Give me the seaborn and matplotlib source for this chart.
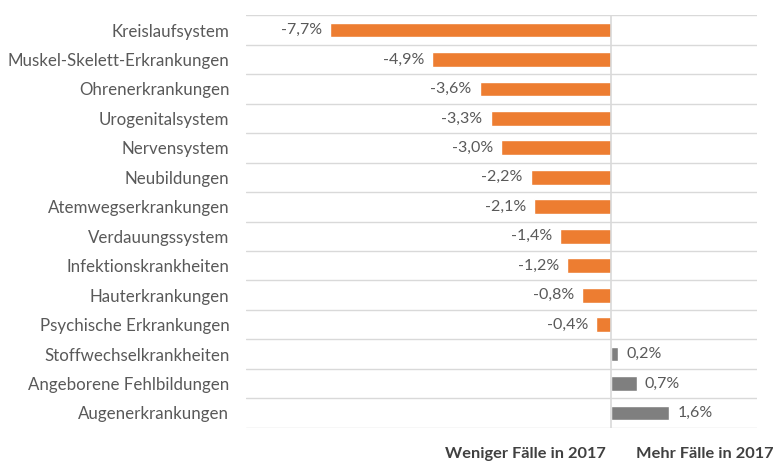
import numpy as np
import pandas as pd
import matplotlib
matplotlib.use("Agg")
import matplotlib.pyplot as plt
import seaborn as sns

categories = [
    "Kreislaufsystem", "Muskel-Skelett-Erkrankungen", "Ohrenerkrankungen",
    "Urogenitalsystem", "Nervensystem", "Neubildungen", "Atemwegserkrankungen",
    "Verdauungssystem", "Infektionskrankheiten", "Hauterkrankungen",
    "Psychische Erkrankungen", "Stoffwechselkrankheiten",
    "Angeborene Fehlbildungen", "Augenerkrankungen",
]
changes = [-7.7, -4.9, -3.6, -3.3, -3.0, -2.2, -2.1, -1.4, -1.2, -0.8, -0.4, 0.2, 0.7, 1.6]
left_note = "Weniger Fälle in 2017"
right_note = "Mehr Fälle in 2017"

sns.set_theme(style="white")
plt.rcParams["font.family"] = ["Lato", "DejaVu Sans"]

df = pd.DataFrame({"cat": categories, "val": changes})
df["dir"] = np.where(df["val"] < 0, "neg", "pos")

text_col = "#595959"
fig = plt.figure(figsize=(7.76, 4.62), dpi=100)
ax = fig.add_axes([0.317, 0.0742, 0.6585, 0.8927])

sns.barplot(data=df, x="val", y="cat", hue="dir", palette={"neg": "#ED7D31", "pos": "#7F7F7F"},
            dodge=False, legend=False, width=0.5, saturation=1, ax=ax)

ax.set_xlim(-10, 4)
ax.set_ylim(len(categories) - 0.5, -0.5)
ax.set_xlabel("")
ax.set_ylabel("")
ax.set_xticks([])
ax.set_yticks(range(len(categories)))
ax.set_yticklabels(categories, fontsize=12.2, color=text_col)
ax.tick_params(axis="y", length=0, pad=12)
ax.set_yticks(np.arange(-0.5, len(categories), 1), minor=True)
ax.tick_params(axis="y", which="minor", length=0)
ax.grid(axis="y", which="minor", color="#D9D9D9", linewidth=1)
ax.set_axisbelow(True)
for s in ax.spines.values():
    s.set_visible(False)
ax.axvline(0, color="#D9D9D9", linewidth=1.2, zorder=3)

for i, v in enumerate(changes):
    lab = f"{v:.1f}%".replace(".", ",")
    if v < 0:
        ax.text(v - 0.22, i, lab, ha="right", va="center", fontsize=11.5, color=text_col)
    else:
        ax.text(v + 0.22, i, lab, ha="left", va="center", fontsize=11.5, color=text_col)

fig.text(606 / 776, 1 - 447 / 462, left_note, ha="right", va="top", fontsize=11.8,
         fontweight="bold", color="#404040")
fig.text(636 / 776, 1 - 447 / 462, right_note, ha="left", va="top", fontsize=11.8,
         fontweight="bold", color="#404040")

fig.savefig("out.png", dpi=100)
